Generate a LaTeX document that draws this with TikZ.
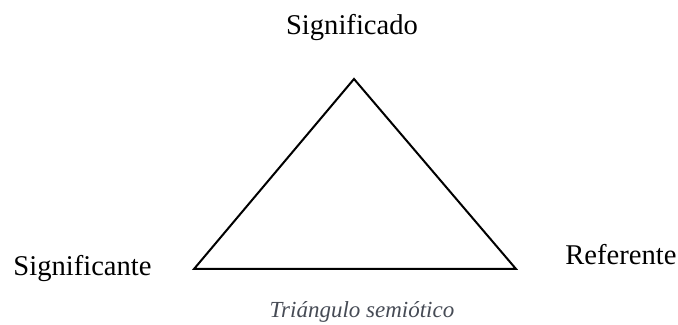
\documentclass[tikz,border=0pt]{standalone}
\usepackage{fontspec}
\setmainfont{Liberation Serif}
\usepackage{xcolor}
\definecolor{captiongray}{HTML}{464B55}

\begin{document}
\begin{tikzpicture}[x=0.5pt,y=0.5pt]

\useasboundingbox (0,0) rectangle (678,325);

\tikzset{label text/.style={font=\fontsize{14.3}{17}\selectfont, inner sep=0pt},
         caption text/.style={font=\fontsize{11.5}{14}\selectfont\itshape, text=captiongray, inner sep=0pt}}

% Corners of the triangle
\coordinate (apex)  at (354,246);
\coordinate (left)  at (194, 56);
\coordinate (right) at (516, 56);

\draw [line width=1pt, line join=miter] (apex) -- (left) -- (right) -- cycle ;

% Labels at the corners
\node[label text, anchor=base]      (significado)  at (352,290) {Significado} ;
\node[label text, anchor=base west] (significante) at ( 13, 49) {Significante} ;
\node[label text, anchor=base west] (referente)    at (565, 60) {Referente} ;

% Caption
\node[caption text, anchor=base] (caption) at (362,7) {Triángulo semiótico} ;

\end{tikzpicture}
\end{document}
